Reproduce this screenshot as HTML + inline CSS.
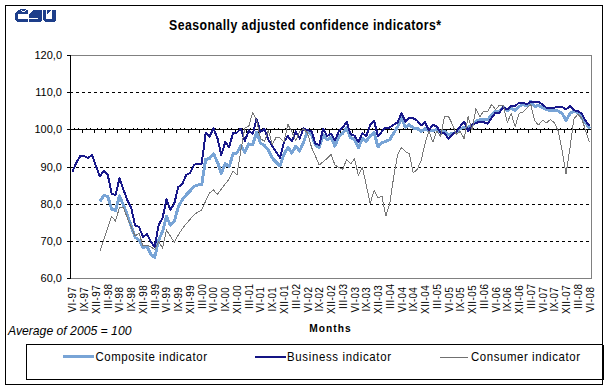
<!DOCTYPE html><html><head><meta charset="utf-8"><style>html,body{margin:0;padding:0;background:#fff;width:609px;height:390px;overflow:hidden}svg{display:block}text{font-family:"Liberation Sans",sans-serif;fill:#000}</style></head><body><svg width="609" height="390" viewBox="0 0 609 390"><rect x="5.5" y="5.5" width="597" height="379" fill="none" stroke="#000" stroke-width="1"/><g fill="#1d3e8a" shape-rendering="crispEdges"><path d="M18,10 L28,10 L28,14 L18,14 L18,19 L28,19 L28,22 L17,22 L15,20 L15,13 Z"/><rect x="20" y="9" width="6" height="1"/><path d="M33,10 L42,10 L42,20 L40,22 L29,22 L29,19 L38,19 L38,18 L29,18 L29,14 Z"/><path d="M43,10 L46,10 L46,19 L52,19 L52,10 L56,10 L56,20 L54,22 L45,22 L43,20 Z"/><path d="M47,10 L51,10 L47,14 Z"/></g><g fill="#fff" shape-rendering="crispEdges"><rect x="21" y="10" width="1" height="1"/><rect x="25" y="10" width="1" height="1"/><rect x="22" y="11" width="3" height="1"/></g><text transform="translate(305,30) scale(0.86,1)" font-size="14.3" font-weight="bold" text-anchor="middle" textLength="316.28" lengthAdjust="spacing">Seasonally adjusted confidence indicators*</text><rect x="70.5" y="55.5" width="521" height="223" fill="none" stroke="#808080" stroke-width="1"/><line x1="76" y1="92.5" x2="591" y2="92.5" stroke="#000" stroke-width="1" stroke-dasharray="3 3"/><line x1="76" y1="167.5" x2="591" y2="167.5" stroke="#000" stroke-width="1" stroke-dasharray="3 3"/><line x1="76" y1="204.5" x2="591" y2="204.5" stroke="#000" stroke-width="1" stroke-dasharray="3 3"/><line x1="76" y1="241.5" x2="591" y2="241.5" stroke="#000" stroke-width="1" stroke-dasharray="3 3"/><line x1="70.5" y1="55" x2="70.5" y2="279" stroke="#000" stroke-width="1"/><line x1="67" y1="55.5" x2="71" y2="55.5" stroke="#000" stroke-width="1"/><line x1="67" y1="92.5" x2="73" y2="92.5" stroke="#000" stroke-width="1"/><line x1="67" y1="129.5" x2="73" y2="129.5" stroke="#000" stroke-width="1"/><line x1="67" y1="167.5" x2="73" y2="167.5" stroke="#000" stroke-width="1"/><line x1="67" y1="204.5" x2="73" y2="204.5" stroke="#000" stroke-width="1"/><line x1="67" y1="241.5" x2="73" y2="241.5" stroke="#000" stroke-width="1"/><line x1="67" y1="278.5" x2="71" y2="278.5" stroke="#000" stroke-width="1"/><text x="62" y="59" font-size="11" text-anchor="end">120,0</text><text x="62" y="96" font-size="11" text-anchor="end">110,0</text><text x="62" y="133" font-size="11" text-anchor="end">100,0</text><text x="62" y="171" font-size="11" text-anchor="end">90,0</text><text x="62" y="208" font-size="11" text-anchor="end">80,0</text><text x="62" y="245" font-size="11" text-anchor="end">70,0</text><text x="62" y="282" font-size="11" text-anchor="end">60,0</text><line x1="70" y1="129.5" x2="591" y2="129.5" stroke="#000" stroke-width="1"/><g fill="#000" shape-rendering="crispEdges"><rect x="74" y="128" width="1" height="1"/><rect x="78" y="128" width="1" height="1"/><rect x="82" y="130" width="1" height="3"/><rect x="86" y="128" width="1" height="1"/><rect x="90" y="128" width="1" height="1"/><rect x="94" y="130" width="1" height="3"/><rect x="97" y="128" width="1" height="1"/><rect x="101" y="128" width="1" height="1"/><rect x="105" y="130" width="1" height="3"/><rect x="109" y="128" width="1" height="1"/><rect x="113" y="128" width="1" height="1"/><rect x="117" y="130" width="1" height="3"/><rect x="121" y="128" width="1" height="1"/><rect x="125" y="128" width="1" height="1"/><rect x="129" y="130" width="1" height="3"/><rect x="133" y="128" width="1" height="1"/><rect x="137" y="128" width="1" height="1"/><rect x="141" y="130" width="1" height="3"/><rect x="144" y="128" width="1" height="1"/><rect x="148" y="128" width="1" height="1"/><rect x="152" y="130" width="1" height="3"/><rect x="156" y="128" width="1" height="1"/><rect x="160" y="128" width="1" height="1"/><rect x="164" y="130" width="1" height="3"/><rect x="168" y="128" width="1" height="1"/><rect x="172" y="128" width="1" height="1"/><rect x="176" y="130" width="1" height="3"/><rect x="180" y="128" width="1" height="1"/><rect x="184" y="128" width="1" height="1"/><rect x="188" y="130" width="1" height="3"/><rect x="191" y="128" width="1" height="1"/><rect x="195" y="128" width="1" height="1"/><rect x="199" y="130" width="1" height="3"/><rect x="203" y="128" width="1" height="1"/><rect x="207" y="128" width="1" height="1"/><rect x="211" y="130" width="1" height="3"/><rect x="215" y="128" width="1" height="1"/><rect x="219" y="128" width="1" height="1"/><rect x="223" y="130" width="1" height="3"/><rect x="227" y="128" width="1" height="1"/><rect x="231" y="128" width="1" height="1"/><rect x="235" y="130" width="1" height="3"/><rect x="238" y="128" width="1" height="1"/><rect x="242" y="128" width="1" height="1"/><rect x="246" y="130" width="1" height="3"/><rect x="250" y="128" width="1" height="1"/><rect x="254" y="128" width="1" height="1"/><rect x="258" y="130" width="1" height="3"/><rect x="262" y="128" width="1" height="1"/><rect x="266" y="128" width="1" height="1"/><rect x="270" y="130" width="1" height="3"/><rect x="274" y="128" width="1" height="1"/><rect x="278" y="128" width="1" height="1"/><rect x="282" y="130" width="1" height="3"/><rect x="285" y="128" width="1" height="1"/><rect x="289" y="128" width="1" height="1"/><rect x="293" y="130" width="1" height="3"/><rect x="297" y="128" width="1" height="1"/><rect x="301" y="128" width="1" height="1"/><rect x="305" y="130" width="1" height="3"/><rect x="309" y="128" width="1" height="1"/><rect x="313" y="128" width="1" height="1"/><rect x="317" y="130" width="1" height="3"/><rect x="321" y="128" width="1" height="1"/><rect x="325" y="128" width="1" height="1"/><rect x="329" y="130" width="1" height="3"/><rect x="332" y="128" width="1" height="1"/><rect x="336" y="128" width="1" height="1"/><rect x="340" y="130" width="1" height="3"/><rect x="344" y="128" width="1" height="1"/><rect x="348" y="128" width="1" height="1"/><rect x="352" y="130" width="1" height="3"/><rect x="356" y="128" width="1" height="1"/><rect x="360" y="128" width="1" height="1"/><rect x="364" y="130" width="1" height="3"/><rect x="368" y="128" width="1" height="1"/><rect x="372" y="128" width="1" height="1"/><rect x="376" y="130" width="1" height="3"/><rect x="379" y="128" width="1" height="1"/><rect x="383" y="128" width="1" height="1"/><rect x="387" y="130" width="1" height="3"/><rect x="391" y="128" width="1" height="1"/><rect x="395" y="128" width="1" height="1"/><rect x="399" y="130" width="1" height="3"/><rect x="403" y="128" width="1" height="1"/><rect x="407" y="128" width="1" height="1"/><rect x="411" y="130" width="1" height="3"/><rect x="415" y="128" width="1" height="1"/><rect x="419" y="128" width="1" height="1"/><rect x="423" y="130" width="1" height="3"/><rect x="426" y="128" width="1" height="1"/><rect x="430" y="128" width="1" height="1"/><rect x="434" y="130" width="1" height="3"/><rect x="438" y="128" width="1" height="1"/><rect x="442" y="128" width="1" height="1"/><rect x="446" y="130" width="1" height="3"/><rect x="450" y="128" width="1" height="1"/><rect x="454" y="128" width="1" height="1"/><rect x="458" y="130" width="1" height="3"/><rect x="462" y="128" width="1" height="1"/><rect x="466" y="128" width="1" height="1"/><rect x="470" y="130" width="1" height="3"/><rect x="473" y="128" width="1" height="1"/><rect x="477" y="128" width="1" height="1"/><rect x="481" y="130" width="1" height="3"/><rect x="485" y="128" width="1" height="1"/><rect x="489" y="128" width="1" height="1"/><rect x="493" y="130" width="1" height="3"/><rect x="497" y="128" width="1" height="1"/><rect x="501" y="128" width="1" height="1"/><rect x="505" y="130" width="1" height="3"/><rect x="509" y="128" width="1" height="1"/><rect x="513" y="128" width="1" height="1"/><rect x="517" y="130" width="1" height="3"/><rect x="520" y="128" width="1" height="1"/><rect x="524" y="128" width="1" height="1"/><rect x="528" y="130" width="1" height="3"/><rect x="532" y="128" width="1" height="1"/><rect x="536" y="128" width="1" height="1"/><rect x="540" y="130" width="1" height="3"/><rect x="544" y="128" width="1" height="1"/><rect x="548" y="128" width="1" height="1"/><rect x="552" y="130" width="1" height="3"/><rect x="556" y="128" width="1" height="1"/><rect x="560" y="128" width="1" height="1"/><rect x="564" y="130" width="1" height="3"/><rect x="567" y="128" width="1" height="1"/><rect x="571" y="128" width="1" height="1"/><rect x="575" y="130" width="1" height="3"/><rect x="579" y="128" width="1" height="1"/><rect x="583" y="128" width="1" height="1"/><rect x="587" y="130" width="1" height="3"/></g><text transform="translate(76.46,299.75) rotate(-90) scale(0.9,1)" font-size="11" text-anchor="middle" textLength="28.33" lengthAdjust="spacing">VI-97</text><text transform="translate(88.21,299.45) rotate(-90) scale(0.9,1)" font-size="11" text-anchor="middle" textLength="27.00" lengthAdjust="spacing">IX-97</text><text transform="translate(99.96,299.60) rotate(-90) scale(0.9,1)" font-size="11" text-anchor="middle" textLength="31.78" lengthAdjust="spacing">XII-97</text><text transform="translate(111.71,296.40) rotate(-90) scale(0.9,1)" font-size="11" text-anchor="middle" textLength="27.78" lengthAdjust="spacing">III-98</text><text transform="translate(123.47,299.75) rotate(-90) scale(0.9,1)" font-size="11" text-anchor="middle" textLength="28.33" lengthAdjust="spacing">VI-98</text><text transform="translate(135.22,299.45) rotate(-90) scale(0.9,1)" font-size="11" text-anchor="middle" textLength="27.00" lengthAdjust="spacing">IX-98</text><text transform="translate(146.97,299.60) rotate(-90) scale(0.9,1)" font-size="11" text-anchor="middle" textLength="31.78" lengthAdjust="spacing">XII-98</text><text transform="translate(158.72,296.40) rotate(-90) scale(0.9,1)" font-size="11" text-anchor="middle" textLength="27.78" lengthAdjust="spacing">III-99</text><text transform="translate(170.47,299.75) rotate(-90) scale(0.9,1)" font-size="11" text-anchor="middle" textLength="28.33" lengthAdjust="spacing">VI-99</text><text transform="translate(182.23,299.45) rotate(-90) scale(0.9,1)" font-size="11" text-anchor="middle" textLength="27.00" lengthAdjust="spacing">IX-99</text><text transform="translate(193.98,299.60) rotate(-90) scale(0.9,1)" font-size="11" text-anchor="middle" textLength="31.78" lengthAdjust="spacing">XII-99</text><text transform="translate(205.73,296.40) rotate(-90) scale(0.9,1)" font-size="11" text-anchor="middle" textLength="27.78" lengthAdjust="spacing">III-00</text><text transform="translate(217.48,299.75) rotate(-90) scale(0.9,1)" font-size="11" text-anchor="middle" textLength="28.33" lengthAdjust="spacing">VI-00</text><text transform="translate(229.23,299.45) rotate(-90) scale(0.9,1)" font-size="11" text-anchor="middle" textLength="27.00" lengthAdjust="spacing">IX-00</text><text transform="translate(240.98,299.60) rotate(-90) scale(0.9,1)" font-size="11" text-anchor="middle" textLength="31.78" lengthAdjust="spacing">XII-00</text><text transform="translate(252.74,296.40) rotate(-90) scale(0.9,1)" font-size="11" text-anchor="middle" textLength="27.78" lengthAdjust="spacing">III-01</text><text transform="translate(264.49,299.75) rotate(-90) scale(0.9,1)" font-size="11" text-anchor="middle" textLength="28.33" lengthAdjust="spacing">VI-01</text><text transform="translate(276.24,299.45) rotate(-90) scale(0.9,1)" font-size="11" text-anchor="middle" textLength="27.00" lengthAdjust="spacing">IX-01</text><text transform="translate(287.99,299.60) rotate(-90) scale(0.9,1)" font-size="11" text-anchor="middle" textLength="31.78" lengthAdjust="spacing">XII-01</text><text transform="translate(299.74,296.40) rotate(-90) scale(0.9,1)" font-size="11" text-anchor="middle" textLength="27.78" lengthAdjust="spacing">III-02</text><text transform="translate(311.50,299.75) rotate(-90) scale(0.9,1)" font-size="11" text-anchor="middle" textLength="28.33" lengthAdjust="spacing">VI-02</text><text transform="translate(323.25,299.45) rotate(-90) scale(0.9,1)" font-size="11" text-anchor="middle" textLength="27.00" lengthAdjust="spacing">IX-02</text><text transform="translate(335.00,299.60) rotate(-90) scale(0.9,1)" font-size="11" text-anchor="middle" textLength="31.78" lengthAdjust="spacing">XII-02</text><text transform="translate(346.75,296.40) rotate(-90) scale(0.9,1)" font-size="11" text-anchor="middle" textLength="27.78" lengthAdjust="spacing">III-03</text><text transform="translate(358.50,299.75) rotate(-90) scale(0.9,1)" font-size="11" text-anchor="middle" textLength="28.33" lengthAdjust="spacing">VI-03</text><text transform="translate(370.26,299.45) rotate(-90) scale(0.9,1)" font-size="11" text-anchor="middle" textLength="27.00" lengthAdjust="spacing">IX-03</text><text transform="translate(382.01,299.60) rotate(-90) scale(0.9,1)" font-size="11" text-anchor="middle" textLength="31.78" lengthAdjust="spacing">XII-03</text><text transform="translate(393.76,296.40) rotate(-90) scale(0.9,1)" font-size="11" text-anchor="middle" textLength="27.78" lengthAdjust="spacing">III-04</text><text transform="translate(405.51,299.75) rotate(-90) scale(0.9,1)" font-size="11" text-anchor="middle" textLength="28.33" lengthAdjust="spacing">VI-04</text><text transform="translate(417.26,299.45) rotate(-90) scale(0.9,1)" font-size="11" text-anchor="middle" textLength="27.00" lengthAdjust="spacing">IX-04</text><text transform="translate(429.02,299.60) rotate(-90) scale(0.9,1)" font-size="11" text-anchor="middle" textLength="31.78" lengthAdjust="spacing">XII-04</text><text transform="translate(440.77,296.40) rotate(-90) scale(0.9,1)" font-size="11" text-anchor="middle" textLength="27.78" lengthAdjust="spacing">III-05</text><text transform="translate(452.52,299.75) rotate(-90) scale(0.9,1)" font-size="11" text-anchor="middle" textLength="28.33" lengthAdjust="spacing">VI-05</text><text transform="translate(464.27,299.45) rotate(-90) scale(0.9,1)" font-size="11" text-anchor="middle" textLength="27.00" lengthAdjust="spacing">IX-05</text><text transform="translate(476.02,299.60) rotate(-90) scale(0.9,1)" font-size="11" text-anchor="middle" textLength="31.78" lengthAdjust="spacing">XII-05</text><text transform="translate(487.77,296.40) rotate(-90) scale(0.9,1)" font-size="11" text-anchor="middle" textLength="27.78" lengthAdjust="spacing">III-06</text><text transform="translate(499.53,299.75) rotate(-90) scale(0.9,1)" font-size="11" text-anchor="middle" textLength="28.33" lengthAdjust="spacing">VI-06</text><text transform="translate(511.28,299.45) rotate(-90) scale(0.9,1)" font-size="11" text-anchor="middle" textLength="27.00" lengthAdjust="spacing">IX-06</text><text transform="translate(523.03,299.60) rotate(-90) scale(0.9,1)" font-size="11" text-anchor="middle" textLength="31.78" lengthAdjust="spacing">XII-06</text><text transform="translate(534.78,296.40) rotate(-90) scale(0.9,1)" font-size="11" text-anchor="middle" textLength="27.78" lengthAdjust="spacing">III-07</text><text transform="translate(546.53,299.75) rotate(-90) scale(0.9,1)" font-size="11" text-anchor="middle" textLength="28.33" lengthAdjust="spacing">VI-07</text><text transform="translate(558.29,299.45) rotate(-90) scale(0.9,1)" font-size="11" text-anchor="middle" textLength="27.00" lengthAdjust="spacing">IX-07</text><text transform="translate(570.04,299.60) rotate(-90) scale(0.9,1)" font-size="11" text-anchor="middle" textLength="31.78" lengthAdjust="spacing">XII-07</text><text transform="translate(581.79,296.40) rotate(-90) scale(0.9,1)" font-size="11" text-anchor="middle" textLength="27.78" lengthAdjust="spacing">III-08</text><text transform="translate(593.54,299.75) rotate(-90) scale(0.9,1)" font-size="11" text-anchor="middle" textLength="28.33" lengthAdjust="spacing">VI-08</text><text transform="translate(330,332) scale(0.88,1)" font-size="11.6" font-weight="bold" text-anchor="middle" textLength="47.16" lengthAdjust="spacing">Months</text><text x="8" y="335" font-size="12.2" font-style="italic">Average of 2005 = 100</text><path d="M99.88,201.50 L103.80,195.50 L107.71,196.50 L111.63,209.00 L115.55,210.50 L119.47,196.00 L123.38,205.00 L127.30,215.00 L131.22,226.00 L135.14,237.50 L139.05,240.00 L142.97,248.00 L146.89,246.00 L150.80,254.00 L154.72,257.50 L158.64,240.00 L162.56,231.50 L166.47,216.50 L170.39,225.00 L174.31,221.50 L178.23,207.00 L182.14,200.00 L186.06,195.00 L189.98,191.00 L193.89,186.50 L197.81,185.00 L201.73,184.50 L205.65,159.50 L209.56,158.50 L213.48,153.70 L217.40,162.00 L221.32,173.40 L225.23,163.50 L229.15,166.80 L233.07,153.70 L236.98,153.00 L240.90,145.70 L244.82,152.20 L248.74,143.90 L252.65,145.00 L256.57,132.50 L260.49,143.20 L264.41,145.40 L268.32,150.00 L272.24,158.00 L276.16,162.30 L280.08,166.00 L283.99,154.30 L287.91,147.30 L291.83,153.00 L295.74,146.10 L299.66,151.00 L303.58,142.00 L307.50,131.30 L311.41,134.50 L315.33,144.80 L319.25,147.70 L323.17,134.60 L327.08,139.90 L331.00,137.00 L334.92,146.10 L338.83,136.60 L342.75,133.30 L346.67,128.00 L350.59,137.90 L354.50,139.10 L358.42,147.70 L362.34,138.50 L366.26,141.50 L370.17,135.80 L374.09,132.50 L378.01,147.00 L381.92,142.80 L385.84,141.20 L389.76,139.80 L393.68,133.00 L397.59,127.00 L401.51,118.00 L405.43,127.20 L409.35,124.70 L413.26,128.00 L417.18,128.30 L421.10,131.50 L425.02,128.80 L428.93,130.50 L432.85,130.50 L436.77,129.70 L440.68,132.10 L444.60,131.30 L448.52,134.60 L452.44,133.50 L456.35,132.20 L460.27,128.50 L464.19,127.30 L468.11,127.00 L472.02,125.90 L475.94,121.30 L479.86,119.70 L483.77,119.50 L487.69,119.70 L491.61,115.20 L495.53,111.00 L499.44,111.50 L503.36,107.30 L507.28,111.00 L511.20,108.00 L515.11,110.70 L519.03,106.50 L522.95,104.50 L526.86,106.00 L530.78,101.30 L534.70,106.50 L538.62,105.50 L542.53,107.40 L546.45,109.80 L550.37,110.20 L554.29,110.60 L558.20,111.00 L562.12,113.50 L566.04,120.50 L569.95,113.50 L573.87,111.00 L577.79,112.70 L581.71,117.60 L585.62,122.50 L589.54,128.50" fill="none" stroke="#78a4d6" stroke-width="3" stroke-linejoin="round" shape-rendering="crispEdges"/><path d="M72.46,171.50 L76.38,162.50 L80.29,156.00 L84.21,156.00 L88.13,158.00 L92.05,155.00 L95.96,166.00 L99.88,176.50 L103.80,170.50 L107.71,174.50 L111.63,193.50 L115.55,195.00 L119.47,178.50 L123.38,189.50 L127.30,200.00 L131.22,208.00 L135.14,225.50 L139.05,227.00 L142.97,237.00 L146.89,234.00 L150.80,241.50 L154.72,247.00 L158.64,225.00 L162.56,218.00 L166.47,199.50 L170.39,210.00 L174.31,203.50 L178.23,187.00 L182.14,184.50 L186.06,175.00 L189.98,173.00 L193.89,165.00 L197.81,163.50 L201.73,163.50 L205.65,133.00 L209.56,136.50 L213.48,128.50 L217.40,138.00 L221.32,155.00 L225.23,142.00 L229.15,147.00 L233.07,133.00 L236.98,132.50 L240.90,128.50 L244.82,141.00 L248.74,130.50 L252.65,134.00 L256.57,119.00 L260.49,132.00 L264.41,129.00 L268.32,139.50 L272.24,146.00 L276.16,152.00 L280.08,158.00 L283.99,142.00 L287.91,136.00 L291.83,141.50 L295.74,131.50 L299.66,138.50 L303.58,128.50 L307.50,130.30 L311.41,130.80 L315.33,143.50 L319.25,145.00 L323.17,128.70 L327.08,136.20 L331.00,133.40 L334.92,140.50 L338.83,131.30 L342.75,127.60 L346.67,122.00 L350.59,134.20 L354.50,135.80 L358.42,142.00 L362.34,133.30 L366.26,136.20 L370.17,125.00 L374.09,120.70 L378.01,136.50 L381.92,131.50 L385.84,127.50 L389.76,127.50 L393.68,124.70 L397.59,122.30 L401.51,113.20 L405.43,121.70 L409.35,117.70 L413.26,118.20 L417.18,120.60 L421.10,125.60 L425.02,122.30 L428.93,130.50 L432.85,124.70 L436.77,126.40 L440.68,133.00 L444.60,133.00 L448.52,139.00 L452.44,134.40 L456.35,131.50 L460.27,126.20 L464.19,121.80 L468.11,131.00 L472.02,124.80 L475.94,123.00 L479.86,121.80 L483.77,122.20 L487.69,123.80 L491.61,117.70 L495.53,112.70 L499.44,112.70 L503.36,107.00 L507.28,109.50 L511.20,106.20 L515.11,106.00 L519.03,102.70 L522.95,102.70 L526.86,104.20 L530.78,101.50 L534.70,101.70 L538.62,101.70 L542.53,104.50 L546.45,107.80 L550.37,107.80 L554.29,107.80 L558.20,106.60 L562.12,107.00 L566.04,109.40 L569.95,106.10 L573.87,110.20 L577.79,111.00 L581.71,113.50 L585.62,120.90 L589.54,125.80" fill="none" stroke="#18188a" stroke-width="2" stroke-linejoin="round" shape-rendering="crispEdges"/><path d="M99.88,251.00 L103.80,239.50 L107.71,228.00 L111.63,216.50 L115.55,221.00 L119.47,207.50 L123.38,207.50 L127.30,218.00 L131.22,227.00 L135.14,236.00 L139.05,233.00 L142.97,246.00 L146.89,245.00 L150.80,247.00 L154.72,249.30 L158.64,242.00 L162.56,248.00 L166.47,230.00 L170.39,236.00 L174.31,242.50 L178.23,235.00 L182.14,229.00 L186.06,224.00 L189.98,219.50 L193.89,215.00 L197.81,212.00 L201.73,210.00 L205.65,201.00 L209.56,193.00 L213.48,190.00 L217.40,194.50 L221.32,189.00 L225.23,184.00 L229.15,179.00 L233.07,171.00 L236.98,175.00 L240.90,150.00 L244.82,128.00 L248.74,126.50 L252.65,112.50 L256.57,120.30 L260.49,138.50 L264.41,141.50 L268.32,130.00 L272.24,144.70 L276.16,137.20 L280.08,138.00 L283.99,141.80 L287.91,124.40 L291.83,131.80 L295.74,141.00 L299.66,131.40 L303.58,128.90 L307.50,133.00 L311.41,147.00 L315.33,156.00 L319.25,165.00 L323.17,161.80 L327.08,158.50 L331.00,154.40 L334.92,165.00 L338.83,167.50 L342.75,169.20 L346.67,159.30 L350.59,164.00 L354.50,158.70 L358.42,175.50 L362.34,167.30 L366.26,185.00 L370.17,203.60 L374.09,190.50 L378.01,198.00 L381.92,196.00 L385.84,216.00 L389.76,204.00 L393.68,177.00 L397.59,154.80 L401.51,147.50 L405.43,151.50 L409.35,153.80 L413.26,172.80 L417.18,169.60 L421.10,160.50 L425.02,143.50 L428.93,131.30 L432.85,142.00 L436.77,131.30 L440.68,136.20 L444.60,116.50 L448.52,116.50 L452.44,124.50 L456.35,134.30 L460.27,131.40 L464.19,138.80 L468.11,116.60 L472.02,130.00 L475.94,108.60 L479.86,116.80 L483.77,111.10 L487.69,111.90 L491.61,104.30 L495.53,109.70 L499.44,105.10 L503.36,105.50 L507.28,122.40 L511.20,113.60 L515.11,126.70 L519.03,113.60 L522.95,111.90 L526.86,108.20 L530.78,104.50 L534.70,120.90 L538.62,125.00 L542.53,120.10 L546.45,122.90 L550.37,119.50 L554.29,122.50 L558.20,131.00 L562.12,151.00 L566.04,174.00 L569.95,148.00 L573.87,119.00 L577.79,114.30 L581.71,118.40 L585.62,130.50 L589.54,142.20" fill="none" stroke="#787878" stroke-width="1" stroke-linejoin="round" shape-rendering="crispEdges"/><rect x="26.5" y="344.5" width="576" height="35" fill="#fff" stroke="#000" stroke-width="1"/><rect x="602" y="345" width="2" height="35" fill="#000"/><rect x="63" y="355" width="31" height="3" fill="#78a4d6"/><text transform="translate(95.5,361) scale(0.9,1)" font-size="12.7" textLength="123.89" lengthAdjust="spacing">Composite indicator</text><rect x="255" y="356" width="31" height="2" fill="#141484"/><text transform="translate(287,361) scale(0.9,1)" font-size="12.7" textLength="115.56" lengthAdjust="spacing">Business indicator</text><rect x="440" y="357" width="28" height="1" fill="#707070"/><text transform="translate(471,361) scale(0.9,1)" font-size="12.7" textLength="121.11" lengthAdjust="spacing">Consumer indicator</text></svg></body></html>
